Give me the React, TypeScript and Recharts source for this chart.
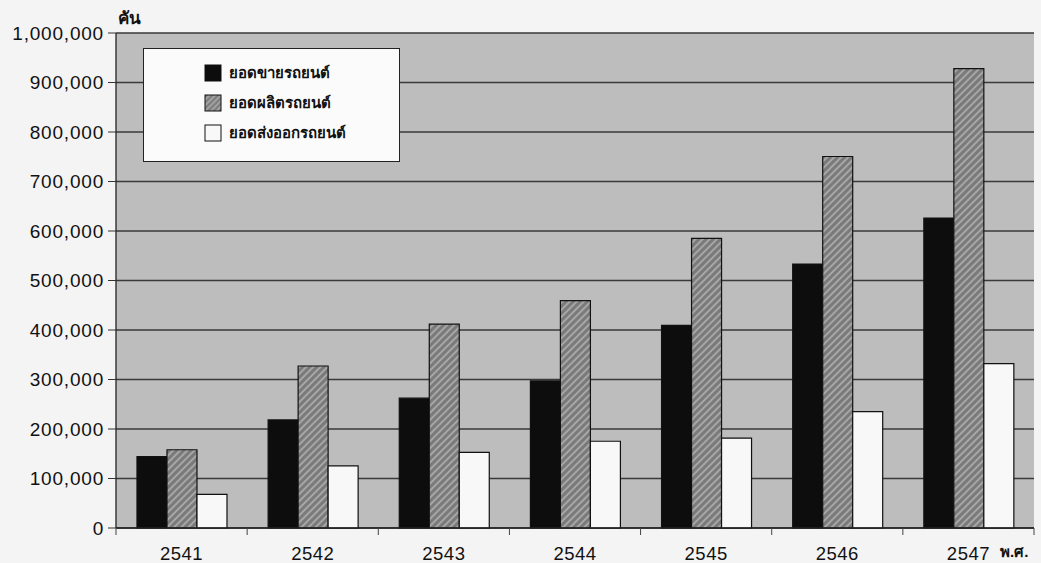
import React from "react";
import {
  BarChart,
  Bar,
  XAxis,
  YAxis,
  CartesianGrid,
} from "recharts";

const years = ["2541", "2542", "2543", "2544", "2545", "2546", "2547"];
const sales = [144065, 218330, 262189, 297052, 409362, 533176, 626026];
const production = [158130, 327233, 411721, 459418, 584951, 750512, 927981];
const exports_ = [67857, 125702, 152836, 175299, 181471, 235022, 332053];
const yTicks = [0, 100000, 200000, 300000, 400000, 500000, 600000, 700000, 800000, 900000, 1000000];

const series = [
  { key: "sales", name: "ยอดขายรถยนต์", fill: "#0d0d0d" },
  { key: "production", name: "ยอดผลิตรถยนต์", fill: "url(#hatch)" },
  { key: "exports", name: "ยอดส่งออกรถยนต์", fill: "#f8f8f8" },
];

const data = years.map((year, i) => ({
  year,
  sales: sales[i],
  production: production[i],
  exports: exports_[i],
}));

const font = "Arial, 'Liberation Sans', 'Noto Sans', sans-serif";

// year label plus a small tick at the category boundaries
function YearTick(props: any) {
  const { x, y, payload, index } = props;
  const half = payload.offset || 0;
  return (
    <g>
      <line x1={x - half} x2={x - half} y1={y} y2={y + 7} stroke="#444" />
      {index === years.length - 1 && (
        <line x1={x + half} x2={x + half} y1={y} y2={y + 7} stroke="#444" />
      )}
      <text x={x} y={y} dy={32} textAnchor="middle" fill="#111" fontSize={18.5} letterSpacing={0.5}>
        {payload.value}
      </text>
    </g>
  );
}

function LegendBox() {
  return (
    <div
      style={{
        position: "absolute",
        left: 143,
        top: 48,
        width: 257,
        height: 114,
        background: "#fbfbfb",
        border: "1.5px solid #222",
        boxSizing: "border-box",
        paddingTop: 9,
        paddingLeft: 60,
        fontFamily: font,
        fontWeight: 700,
        fontSize: 15,
        color: "#111",
      }}
    >
      {series.map((s) => (
        <div key={s.key} style={{ display: "flex", alignItems: "center", height: 30 }}>
          <svg width={18} height={18} style={{ marginRight: 7 }}>
            <defs>
              <pattern id={"lh" + s.key} width="4" height="4" patternUnits="userSpaceOnUse" patternTransform="rotate(45)">
                <rect width="4" height="4" fill="#7d7d7d" />
                <rect width="1.6" height="4" fill="#a9a9a9" />
              </pattern>
            </defs>
            <rect
              x={1}
              y={1}
              width={16}
              height={16}
              fill={s.key === "production" ? "url(#lh" + s.key + ")" : s.fill}
              stroke="#111"
              strokeWidth={1}
            />
          </svg>
          <span>{s.name}</span>
        </div>
      ))}
    </div>
  );
}

export default function App() {
  return (
    <div
      style={{
        position: "absolute",
        left: 0,
        top: 0,
        width: 1041,
        height: 563,
        background: "#f4f4f4",
        fontFamily: font,
      }}
    >
      <BarChart
        width={1041}
        height={563}
        data={data}
        margin={{ top: 33, right: 7, bottom: 0, left: 0 }}
        barCategoryGap="16%"
        barGap={0}
      >
        <defs>
          <pattern id="hatch" width="5" height="5" patternUnits="userSpaceOnUse" patternTransform="rotate(45)">
            <rect width="5" height="5" fill="#7a7a7a" />
            <rect width="2" height="5" fill="#a6a6a6" />
          </pattern>
        </defs>
        <CartesianGrid
          vertical={false}
          fill="#bdbdbd"
          fillOpacity={1}
          stroke="#3a3a3a"
          strokeWidth={1.3}
        />
        <XAxis
          dataKey="year"
          height={35}
          axisLine={{ stroke: "#222", strokeWidth: 1.3 }}
          tickLine={false}
          tickSize={0}
          tickMargin={0}
          tick={<YearTick />}
          interval={0}
        />
        <YAxis
          domain={[0, 1000000]}
          ticks={yTicks}
          width={116}
          axisLine={{ stroke: "#222", strokeWidth: 1.3 }}
          tickLine={{ stroke: "#333" }}
          tickSize={8}
          tickMargin={4}
          interval={0}
          tick={{ fill: "#111", fontSize: 19, letterSpacing: 0.8 }}
          tickFormatter={(v: number) => v.toLocaleString("en-US")}
        />
        <YAxis
          yAxisId="right"
          orientation="right"
          width={0}
          tick={false}
          axisLine={{ stroke: "#555" }}
          tickLine={false}
        />
        {series.map((s) => (
          <Bar
            key={s.key}
            dataKey={s.key}
            name={s.name}
            fill={s.fill}
            stroke="#111"
            strokeWidth={1.2}
            isAnimationActive={false}
          />
        ))}
      </BarChart>
      <LegendBox />
      <div style={{ position: "absolute", left: 118, top: 4, fontSize: 17, fontWeight: 700, color: "#111" }}>คัน</div>
      <div style={{ position: "absolute", left: 1000, top: 540, fontSize: 15, fontWeight: 700, color: "#111" }}>พ.ศ.</div>
    </div>
  );
}
